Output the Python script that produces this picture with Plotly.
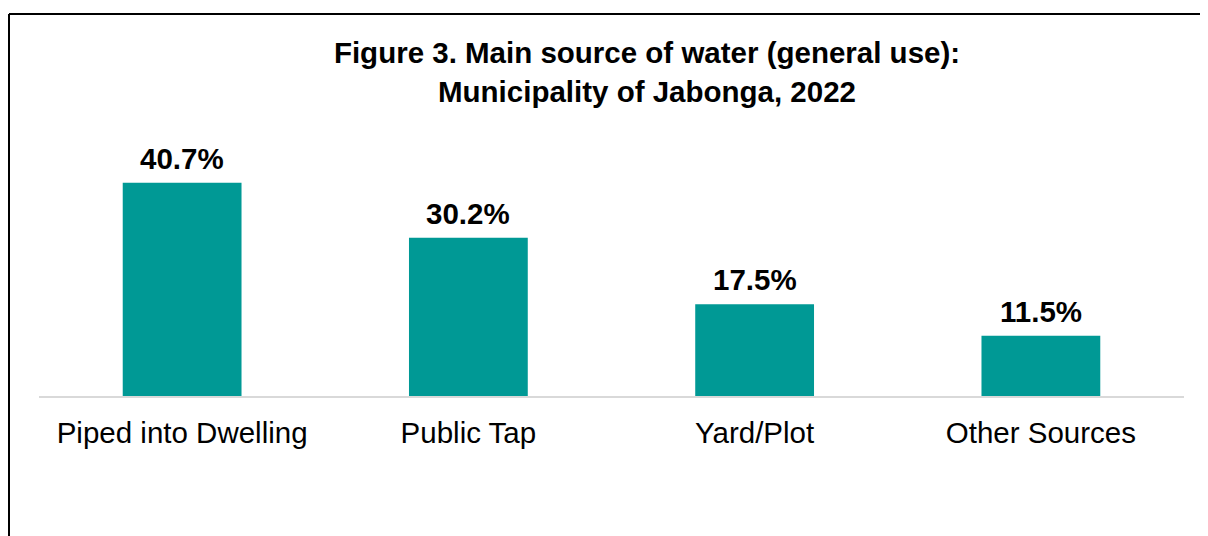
import plotly.graph_objects as go

categories = ["Piped into Dwelling", "Public Tap", "Yard/Plot", "Other Sources"]
shares = [40.7, 30.2, 17.5, 11.5]
labels = ["40.7%", "30.2%", "17.5%", "11.5%"]

teal = "#009995"

fig = go.Figure(
    go.Bar(
        x=categories,
        y=shares,
        marker=dict(color=teal, line=dict(width=0)),
        hoverinfo="x+y",
    )
)

# value labels above the bars
for cat, val, lab in zip(categories, shares, labels):
    fig.add_annotation(
        x=cat, y=val, text=f"<b>{lab}</b>",
        showarrow=False, yanchor="bottom", yshift=6,
        font=dict(size=29.5, color="black"),
    )

# page body has an 8px margin, so the figure is shrunk and shifted to suit
fig.update_layout(
    width=1200,
    height=528,
    margin=dict(l=31, r=24, t=126, b=140),
    paper_bgcolor="white",
    plot_bgcolor="white",
    bargap=0.585,
    showlegend=False,
    font=dict(family="Liberation Sans, Arial", color="black"),
    title=dict(
        text="<b>Figure 3. Main source of water (general use):<br>Municipality of Jabonga, 2022</b>",
        x=639 / 1200,
        xanchor="center",
        y=0.895,
        yanchor="bottom",
        font=dict(size=29.5, color="black"),
    ),
)

fig.update_xaxes(
    showline=True,
    linecolor="#d9d9d9",
    linewidth=2,
    ticks="outside",
    ticklen=10,
    tickcolor="rgba(0,0,0,0)",
    tickfont=dict(size=29.5, color="black"),
    showgrid=False,
)
fig.update_yaxes(range=[0, 50], visible=False, showgrid=False)

# outer frame: only left and top edges show in the source crop
frame_left = -30 / 1145
frame_top = (396 - 14) / 262
fig.add_shape(type="line", xref="paper", yref="paper",
              x0=frame_left, x1=frame_left, y0=-1.0, y1=frame_top,
              line=dict(color="black", width=2))
fig.add_shape(type="line", xref="paper", yref="paper",
              x0=frame_left, x1=1.5, y0=frame_top, y1=frame_top,
              line=dict(color="black", width=2))

fig.write_html("out.html")
